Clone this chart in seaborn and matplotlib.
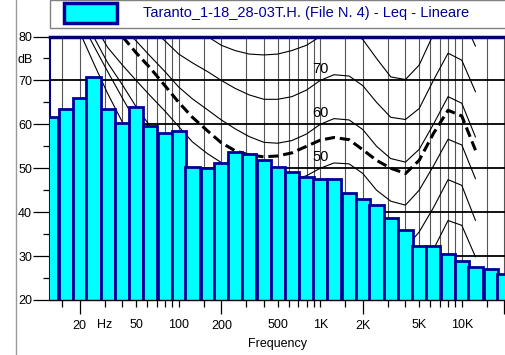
import numpy as np
import matplotlib.pyplot as plt
import seaborn as sns
from matplotlib.patches import Rectangle
from matplotlib.lines import Line2D

# 1/3 octave spectrum (Leq, linear)
band_freqs = [12.5, 16, 20, 25, 31.5, 40, 50, 63, 80, 100, 125, 160, 200, 250, 315,
              400, 500, 630, 800, 1000, 1250, 1600, 2000, 2500, 3150, 4000, 5000,
              6300, 8000, 10000, 12500, 16000, 20000]
band_levels = [61.6, 63.6, 65.9, 70.7, 63.4, 60.3, 64.0, 59.6, 58.0, 58.5, 50.3, 50.1,
               51.2, 53.6, 53.3, 51.8, 50.3, 49.2, 48.0, 47.6, 47.6, 44.4, 43.1, 41.6,
               38.7, 35.9, 32.4, 32.4, 30.5, 28.9, 27.5, 27.0, 26.0]

# equal loudness contours
iso_freqs = [20, 25, 31.5, 40, 50, 63, 80, 100, 125, 160, 200, 250, 315, 400, 500,
             630, 800, 1000, 1250, 1600, 2000, 2500, 3150, 4000, 5000, 6300, 8000,
             10000, 12500]
phon_20 = [81, 74, 67, 60.5, 54.5, 49, 44, 39.5, 35, 31, 27.5, 24.5, 22, 20.5, 19.5,
           19.2, 19.5, 20, 21.2, 21, 19, 15.5, 13, 12, 16, 22, 29, 28, 21]
phon_30 = [84, 78, 72, 66, 60.5, 55.5, 50.5, 46.5, 42.5, 38.8, 35.5, 32.5, 30.5, 29.2,
           28.5, 28.5, 29, 30, 31.2, 31, 29, 25.5, 23, 22, 25.8, 31.5, 38.1, 37.0, 29.8]
phon_40 = [86, 80, 74, 69, 64, 59.5, 55.5, 52, 48.5, 45.5, 43, 40.5, 38.8, 37.8, 37.3,
           37.7, 38.6, 40, 41.2, 41, 38.8, 35.2, 32.8, 31.8, 35.5, 41, 47.4, 46.1, 38.1]
phon_50 = [88.5, 83, 77.5, 73.5, 70, 66.5, 63, 59.5, 56, 53.3, 51.3, 49.5, 48, 47, 46.8,
           47.3, 48.3, 50, 51.2, 51, 48.8, 45, 42.5, 41.6, 45, 50.5, 56.6, 55.3, 47.6]
phon_60 = [92, 89, 85.5, 82, 79, 75.5, 72, 68.5, 65.8, 63.3, 61, 59, 57.2, 55.9, 55.7,
           56.3, 57.8, 60, 61.3, 61, 58.8, 55, 52.2, 51.4, 54.3, 60, 66.3, 64.8, 57.1]
phon_70 = [97, 94, 91, 88, 85, 82, 79, 76, 74, 72, 70, 68.2, 66.7, 65.7, 65.7, 66.3, 67.8,
           70, 71.3, 71, 68.8, 65, 61.6, 61.1, 63.6, 70, 76.2, 74.6, 67.4]
phon_80 = [104, 101, 98, 95, 92, 89, 86.5, 84, 82, 80, 78, 76.8, 76, 75.8, 76, 76.8, 78,
           80, 81.5, 81.3, 79.3, 75, 70.8, 70.2, 73.5, 80.5, 86, 84.6, 77.8]
leq_contour = [95, 90.5, 85.5, 80.0, 76.3, 72.8, 68.8, 65.0, 61.6, 58.5, 55.8, 54, 53.0,
               52.6, 52.8, 53.5, 55, 56.4, 57, 56.5, 54.2, 51.8, 50.0, 48.8, 51.8, 57.9,
               63.2, 61.9, 54.1]

contour_labels = ["70", "60", "50"]
contour_label_levels = [72.5, 62.5, 52.5]

y_major = [20, 30, 40, 50, 60, 70, 80]
y_minor = [25, 35, 45, 55, 65, 75]
y_minor_labels = ["", "", "", "", "", "dB"]
x_major = [20, 200, 2000, 20000]
x_major_labels = ["20", "200", "2K", ""]
x_minor = [15, 30, 40, 50, 60, 70, 80, 90, 100, 150, 300, 400, 500, 600, 700, 800, 900,
           1000, 1500, 3000, 4000, 5000, 6000, 7000, 8000, 9000, 10000, 15000]
x_minor_labels = ["", "Hz", "", "50", "", "", "", "", "100", "", "", "", "500", "", "",
                  "", "", "1K", "", "", "", "5K", "", "", "", "", "10K", ""]

legend_text = "Taranto_1-18_28-03T.H. (File N. 4) - Leq - Lineare"

sns.set_style("ticks")
plt.rcParams["font.family"] = ["Liberation Sans", "DejaVu Sans"]

fig = plt.figure(figsize=(5.05, 3.55), dpi=100)
ax = fig.add_axes([50 / 505, 55 / 355, 455 / 505, 263.5 / 355])
ax.set_xscale("log")
ax.set_xlim(12.32, 20200)
ax.set_ylim(20, 80)

# grid behind everything
ax.set_axisbelow(True)
ax.grid(axis="x", which="both", color="#555555", linewidth=0.8)
ax.grid(axis="y", which="major", color="black", linewidth=1.3)

# contours
for curve in [phon_20, phon_30, phon_40, phon_50, phon_60, phon_70, phon_80]:
    sns.lineplot(x=iso_freqs, y=curve, color="black", linewidth=0.8,
                 errorbar=None, ax=ax, zorder=2)
sns.lineplot(x=iso_freqs, y=leq_contour, color="black", linewidth=2.2,
             linestyle=(0, (3.3, 1.6)), errorbar=None, ax=ax, zorder=2)

for lab, lev in zip(contour_labels, contour_label_levels):
    ax.text(1000, lev, lab, ha="center", va="center", fontsize=10.5,
            color="black", zorder=4)

# third-octave bars
freqs = np.array(band_freqs)
left = freqs / 2 ** (1 / 6)
right = freqs * 2 ** (1 / 6)
ax.bar(left, band_levels, width=right - left, align="edge", color="#00ffff",
       edgecolor="#000099", linewidth=2, zorder=3)

# ticks
ax.set_yticks(y_major, [str(v) for v in y_major])
ax.set_yticks(y_minor, y_minor_labels, minor=True)
ax.set_xticks(x_major, x_major_labels)
ax.set_xticks(x_minor, x_minor_labels, minor=True)
ax.tick_params(axis="y", which="major", length=12, width=0.9, pad=1, labelsize=9,
               color="black", labelcolor="black")
ax.tick_params(axis="y", which="minor", length=5, width=0.9, pad=7, labelsize=9,
               color="black", labelcolor="black")
ax.tick_params(axis="x", which="major", length=10, width=0.9, pad=4.5, labelsize=9,
               color="black", labelcolor="black")
ax.tick_params(axis="x", which="minor", length=5, width=0.9, pad=9, labelsize=9,
               color="black", labelcolor="black")
ax.set_xlabel("Frequency", fontsize=9, color="black", labelpad=4.5)

ax.spines["right"].set_visible(False)
ax.spines["top"].set_color("#000066")
ax.spines["top"].set_linewidth(2.5)
ax.spines["left"].set_color("#000080")
ax.spines["left"].set_linewidth(1.5)
ax.spines["bottom"].set_color("black")
ax.spines["bottom"].set_linewidth(1)
ax.spines["bottom"].set_zorder(4)

# legend strip
fig.add_artist(Rectangle((50 / 505, 327 / 355), 460 / 505, 27.5 / 355,
                         transform=fig.transFigure, facecolor="white",
                         edgecolor="#808080", linewidth=1))
fig.add_artist(Rectangle((64 / 505, 332.5 / 355), 53 / 505, 19 / 355,
                         transform=fig.transFigure, facecolor="#00ffff",
                         edgecolor="#000099", linewidth=2.5))
fig.text(143 / 505, 1 - 13 / 355, legend_text, ha="left", va="center",
         fontsize=10.5, color="#000099")
fig.add_artist(Line2D([15.5 / 505, 15.5 / 505], [0, 1], transform=fig.transFigure,
                      color="#999999", linewidth=1))

fig.savefig("out.png", dpi=100)
